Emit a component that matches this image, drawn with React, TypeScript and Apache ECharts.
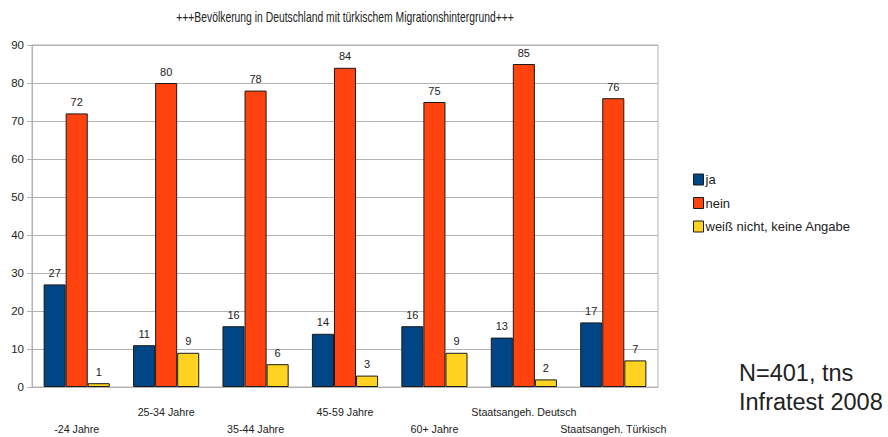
import React, { useEffect, useRef } from "react";
import * as echarts from "echarts";

const categories = ["-24 Jahre", "25-34 Jahre", "35-44 Jahre", "45-59 Jahre", "60+ Jahre", "Staatsangeh. Deutsch", "Staatsangeh. Türkisch"];
const jaValues = [27, 11, 16, 14, 16, 13, 17];
const neinValues = [72, 80, 78, 84, 75, 85, 76];
const weissValues = [1, 9, 6, 3, 9, 2, 7];
const seriesNames = ["ja", "nein", "weiß nicht, keine Angabe"];
const colors = ["#004586", "#ff420e", "#ffd320"];
const titleText = "+++Bevölkerung in Deutschland mit türkischem Migrationshintergrund+++";

const FONT = "'Liberation Sans', Arial, sans-serif";

export default function App() {
  const ref = useRef<HTMLDivElement>(null);
  useEffect(() => {
    if (!ref.current) return;
    const chart = echarts.init(ref.current, null, { renderer: "svg" });
    const mk = (name: string, data: number[], color: string) => ({
      name,
      type: "bar",
      data,
      barGap: "0%",
      barCategoryGap: "26%",
      itemStyle: { color, borderColor: "#1a1a1a", borderWidth: 1 },
      label: { show: true, position: "top", distance: 6, color: "#222", fontSize: 11, fontFamily: FONT },
    });
    chart.setOption({
      animation: false,
      legend: {
        orient: "vertical",
        left: 688,
        top: 168,
        itemWidth: 10,
        itemHeight: 11,
        itemGap: 10.5,
        icon: "rect",
        textStyle: { fontSize: 13, color: "#222", fontFamily: FONT, padding: [0, 0, 0, -3] },
        data: seriesNames.map((n, i) => ({ name: n, itemStyle: { color: colors[i], borderColor: "#1a1a1a", borderWidth: 1 } })),
      },
      grid: { left: 32, right: 230, top: 45, bottom: 48, show: true, borderColor: "#b3b3b3", borderWidth: 1 },
      xAxis: {
        type: "category",
        data: categories,
        axisLine: { lineStyle: { color: "#b3b3b3" } },
        axisTick: { alignWithLabel: true, length: 6, lineStyle: { color: "#b3b3b3" } },
        axisLabel: {
          interval: 0,
          margin: 16,
          fontSize: 10.7,
          lineHeight: 17,
          color: "#222",
          fontFamily: FONT,
          formatter: (v: string, i: number) => (i % 2 === 0 ? "\n" + v : v),
        },
      },
      yAxis: {
        type: "value",
        min: 0,
        max: 90,
        interval: 10,
        axisLine: { show: true, lineStyle: { color: "#b3b3b3" } },
        axisTick: { show: true, length: 5, lineStyle: { color: "#b3b3b3" } },
        splitLine: { lineStyle: { color: "#b3b3b3" } },
        axisLabel: { fontSize: 11.5, color: "#222", fontFamily: FONT, margin: 8 },
      },
      graphic: [
        { type: "text", x: 345, y: 17, scaleX: 0.74, style: { text: titleText, fontSize: 14, fill: "#222", fontFamily: FONT, align: "center", verticalAlign: "middle" } },
        { type: "text", x: 739, y: 373, style: { text: "N=401, tns", fontSize: 23.5, fill: "#222", fontFamily: FONT, verticalAlign: "middle" } },
        { type: "text", x: 739, y: 402, style: { text: "Infratest 2008", fontSize: 23.5, fill: "#222", fontFamily: FONT, verticalAlign: "middle" } },
      ],
      series: [
        mk(seriesNames[0], jaValues, colors[0]),
        mk(seriesNames[1], neinValues, colors[1]),
        mk(seriesNames[2], weissValues, colors[2]),
      ],
    });
    return () => chart.dispose();
  }, []);
  return <div ref={ref} style={{ width: 888, height: 437, position: "absolute", left: 0, top: 0 }} />;
}
